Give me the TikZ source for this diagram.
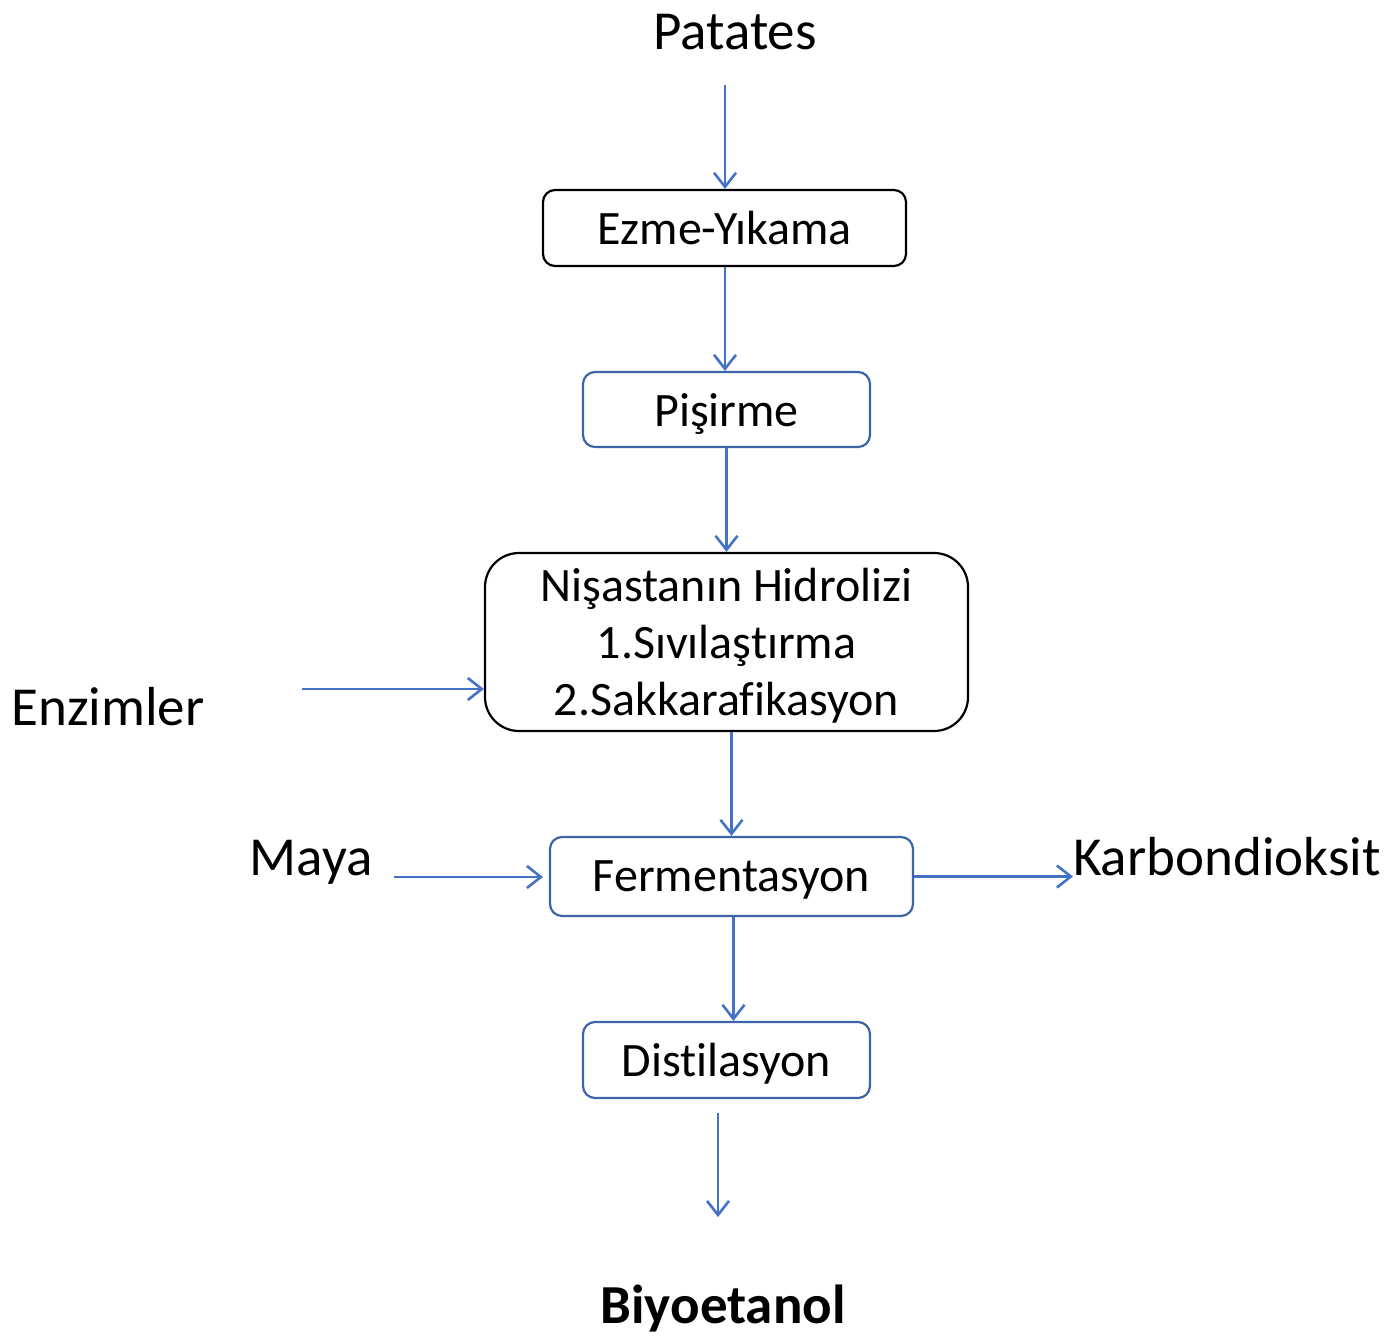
\documentclass[tikz,border=0pt]{standalone}
\usepackage{fontspec}
\setmainfont{Carlito}[Ligatures={NoCommon}]
\usetikzlibrary{arrows.meta}
\definecolor{arr}{HTML}{4472C4}
\definecolor{bblue}{HTML}{3C64A8}
\begin{document}
\begin{tikzpicture}[x=1pt,y=-1pt,
  proc/.style={draw, line width=2.2pt, rounded corners=12pt, inner sep=0pt, align=center, text depth=0pt, font=\fontsize{48}{57}\selectfont},
  blk/.style={proc, draw=black},
  blu/.style={proc, draw=bblue},
  lbl/.style={inner sep=0pt, anchor=base, font=\fontsize{55}{60}\selectfont},
  flow/.style={draw=arr, line width=2.6pt, -{Straight Barb[length=14pt,width=22pt,line width=2.6pt]}}]
\useasboundingbox (0,0) rectangle (1391,1340);
\node[blk, minimum width=363pt, minimum height=76pt] (ezme) at (724.5,228) {Ezme-Yıkama};
\node[blu, minimum width=287pt, minimum height=75pt] (pis) at (726.5,409.5) {Pişirme};
\node[blk, minimum width=483pt, minimum height=178pt, rounded corners=34pt] (nis) at (726.5,642) {Nişastanın Hidrolizi\\1.Sıvılaştırma\\2.Sakkarafikasyon};
\node[blu, minimum width=363pt, minimum height=79pt] (fer) at (731.5,876.5) {Fermentasyon};
\node[blu, minimum width=287pt, minimum height=76pt] (dis) at (726.5,1060) {Distilasyon};
\node[lbl] (pat) at (735,50) {Patates};
\node[lbl] (enz) at (108,725) {Enzimler};
\node[lbl] (maya) at (311,875) {Maya};
\node[lbl, anchor=base west] (karb) at (1073,875) {Karbondioksit};
\node[lbl, font=\fontsize{55}{60}\selectfont\bfseries] (bio) at (723,1323) {Biyoetanol};
\coordinate (patS) at (725,85);
\coordinate (enzE) at (302,689);
\coordinate (mayaE) at (394,877);
\coordinate (mayaT) at (543,877);
\coordinate (disS) at (718,1113);
\coordinate (bioN) at (718,1217);
\draw[flow] (patS) -- (patS |- ezme.north);
\draw[flow] (ezme.south -| patS) -- (pis.north -| patS);
\draw[flow] (pis.south) -- (nis.north -| pis.south);
\draw[flow] (nis.south -| fer.north) -- (fer.north);
\draw[flow] ([xshift=2pt]fer.south) -- ([xshift=2pt]dis.north -| fer.south);
\draw[flow] (disS) -- (bioN);
\draw[flow] (enzE) -- (enzE -| nis.west);
\draw[flow] (mayaE) -- (mayaT);
\draw[flow] (fer.east) -- (karb.west |- fer.east);
\end{tikzpicture}
\end{document}
